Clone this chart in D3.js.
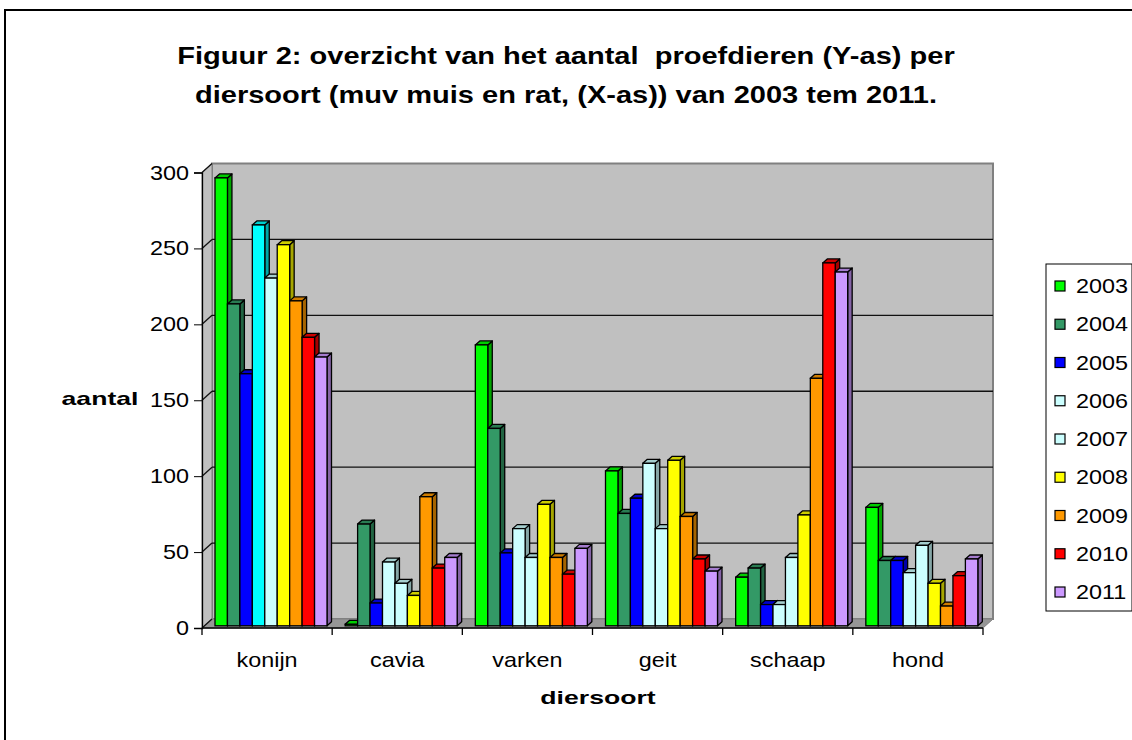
<!DOCTYPE html>
<html>
  <head>
    <script src="https://d3js.org/d3.v7.min.js"></script>
  </head>
  <style>
    body { margin: 0; background: #fff; }
    text { font-family: "Liberation Sans", Arial, sans-serif; }
  </style>
  <body>
    <svg width="1132" height="740"></svg>
    <script>
      // data
      var categories = ["konijn", "cavia", "varken", "geit", "schaap", "hond"];
      var years = ["2003", "2004", "2005", "2006", "2007", "2008", "2009", "2010", "2011"];
      var v2003 = [295, 1, 185, 102, 32, 78];
      var v2004 = [212, 67, 130, 74, 38, 43];
      var v2005 = [166, 15, 48, 84, 14, 43];
      var v2006 = [264, 42, 64, 107, 14, 35];
      var v2007 = [229, 28, 45, 64, 45, 53];
      var v2008 = [251, 20, 80, 109, 73, 28];
      var v2009 = [214, 85, 45, 72, 163, 13];
      var v2010 = [190, 38, 34, 44, 239, 33];
      var v2011 = [177, 45, 51, 36, 233, 44];
      var series = [v2003, v2004, v2005, v2006, v2007, v2008, v2009, v2010, v2011];
      var yTicks = [0, 50, 100, 150, 200, 250, 300];

      var colors = ["#00FF00", "#339966", "#0000FF", "#CCFFFF", "#CCFFFF",
                    "#FFFF00", "#FF9900", "#FF0000", "#CC99FF"];
      // konijn 2006 is drawn in plain cyan in the original
      function barColor(ci, yi) {
        if (ci === 0 && yi === 3) return "#00FFFF";
        return colors[yi];
      }

      var svg = d3.select("svg");

      // outer chart border
      svg.append("rect")
        .attr("x", 5).attr("y", 10)
        .attr("width", 1140).attr("height", 740)
        .style("fill", "none").style("stroke", "#000").style("stroke-width", 2);

      // text in the original is stretched sideways
      function stretched(x, y, str, size, bold, anchor, sx) {
        return svg.append("text")
          .attr("transform", "translate(" + x + "," + y + ") scale(" + (sx || 1.17) + ",1)")
          .attr("text-anchor", anchor || "middle")
          .style("font-size", size + "px")
          .style("font-weight", bold ? "bold" : "normal")
          .text(str);
      }

      // Title
      stretched(566, 64, "Figuur 2: overzicht van het aantal\u00a0 proefdieren (Y-as) per", 24, true, "middle", 1.21);
      stretched(566, 103, "diersoort (muv muis en rat, (X-as)) van 2003 tem 2011.", 24, true, "middle", 1.21);

      // scales
      var x0 = d3.scaleBand().domain(categories).range([202, 983]);
      var x1 = d3.scaleBand().domain(years).range([10.5, 122.5]);
      var y = d3.scaleLinear().domain([0, 300]).range([628, 172.5]);

      var dX = 10, dY = -9;          // full depth of the plot box
      var fX = 2.5, fY = -2.2;       // front face of the bars
      var bX = 4.5, bY = -4;         // depth of a bar

      var g = svg.append("g");

      // back wall
      g.append("rect")
        .attr("x", 202 + dX).attr("y", y(300) + dY)
        .attr("width", 781).attr("height", y(0) - y(300))
        .style("fill", "#C0C0C0").style("stroke", "#808080").style("stroke-width", 2);
      // left wall
      g.append("polygon")
        .attr("points", [[202, y(300)], [202 + dX, y(300) + dY], [202 + dX, y(0) + dY], [202, y(0)]].join(" "))
        .style("fill", "#C0C0C0").style("stroke", "#808080").style("stroke-width", 1);
      // floor
      g.append("polygon")
        .attr("points", [[202, y(0)], [202 + dX, y(0) + dY], [983 + dX, y(0) + dY], [983, y(0)]].join(" "))
        .style("fill", "#969696").style("stroke", "#808080").style("stroke-width", 1);

      // gridlines
      yTicks.slice(1, -1).forEach(function (t) {
        g.append("line")
          .attr("x1", 202 + dX).attr("x2", 983 + dX)
          .attr("y1", y(t) + dY).attr("y2", y(t) + dY)
          .style("stroke", "#111").style("stroke-width", 1.3);
      });
      yTicks.forEach(function (t) {
        g.append("line")
          .attr("x1", 202).attr("x2", 202 + dX)
          .attr("y1", y(t)).attr("y2", y(t) + dY)
          .style("stroke", "#111").style("stroke-width", 1.3);
      });

      // bars
      categories.forEach(function (c, ci) {
        years.forEach(function (yr, yi) {
          var v = series[yi][ci];
          var col = barColor(ci, yi);
          var xl = x0(c) + x1(yr) + fX;
          var xr = xl + x1.bandwidth();
          var yt = y(v) + fY;
          var yb = y(0) + fY;
          var bg = g.append("g");
          // side
          bg.append("polygon")
            .attr("points", [[xr, yt], [xr + bX, yt + bY], [xr + bX, yb + bY], [xr, yb]].join(" "))
            .style("fill", d3.color(col).darker(1.2))
            .style("stroke", "#000").style("stroke-width", 1.3).style("stroke-linejoin", "round");
          // top
          bg.append("polygon")
            .attr("points", [[xl, yt], [xl + bX, yt + bY], [xr + bX, yt + bY], [xr, yt]].join(" "))
            .style("fill", d3.color(col).darker(0.6))
            .style("stroke", "#000").style("stroke-width", 1.3).style("stroke-linejoin", "round");
          // front
          bg.append("rect")
            .attr("x", xl).attr("y", yt)
            .attr("width", x1.bandwidth()).attr("height", yb - yt)
            .style("fill", col)
            .style("stroke", "#000").style("stroke-width", 1.3);
        });
      });

      // axes
      var yAxis = svg.append("g")
        .attr("transform", "translate(202,0)")
        .call(d3.axisLeft(y).tickValues(yTicks).tickSize(8).tickPadding(5));
      yAxis.selectAll("text").remove();
      yAxis.select(".domain").attr("stroke-width", 1.3);
      yTicks.forEach(function (t) {
        stretched(189, y(t) + 7, String(t), 20, false, "end");
      });

      var xAxis = svg.append("g")
        .attr("transform", "translate(0,628)");
      xAxis.append("line")
        .attr("x1", 202).attr("x2", 983)
        .style("stroke", "#000").style("stroke-width", 1.3);
      categories.concat(["__end"]).forEach(function (c, i) {
        var xx = i < categories.length ? x0(c) : x0.range()[1];
        xAxis.append("line")
          .attr("x1", xx).attr("x2", xx).attr("y1", 0).attr("y2", 7)
          .style("stroke", "#000").style("stroke-width", 1.3);
      });
      categories.forEach(function (c) {
        stretched(x0(c) + x0.bandwidth() / 2, 667, c, 20, false);
      });

      // axis titles
      stretched(100, 405, "aantal", 19, true, "middle", 1.4);
      stretched(598, 704, "diersoort", 19, true, "middle", 1.4);

      // legend
      var lg = svg.append("g");
      lg.append("rect")
        .attr("x", 1046).attr("y", 264).attr("width", 86).attr("height", 347)
        .style("fill", "#fff").style("stroke", "#000").style("stroke-width", 1);
      var ly = d3.scalePoint().domain(years).range([286, 592]);
      years.forEach(function (yr, yi) {
        lg.append("rect")
          .attr("x", 1055).attr("y", ly(yr) - 5)
          .attr("width", 10).attr("height", 10)
          .style("fill", colors[yi]).style("stroke", "#000").style("stroke-width", 1.2);
        stretched(1076, ly(yr) + 7, yr, 20, false, "start");
      });
    </script>
  </body>
</html>
